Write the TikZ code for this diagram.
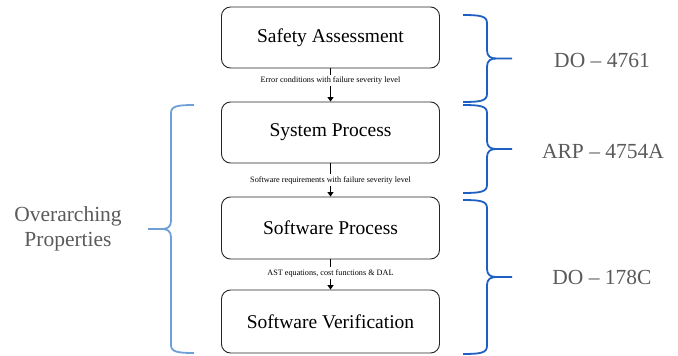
\documentclass[tikz,border=0pt]{standalone}
\usepackage{fontspec}
\setmainfont{Liberation Serif}
\usetikzlibrary{arrows.meta}
\definecolor{bracedark}{RGB}{30,95,195}
\definecolor{bracelight}{RGB}{110,160,215}
\definecolor{labgray}{RGB}{90,90,90}
\newcommand{\drawbrace}[7]{%
  % #1 style, #2 x of ends, #3 x of spine, #4 x of tip, #5 y top, #6 y bottom, #7 sign
  \draw[#1] (#2,#5) .. controls ({#3-7*#7},#5) and (#3,{#5+1}) .. (#3,{#5+8})
    -- (#3,{(#5+#6)/2-8}) .. controls (#3,{(#5+#6)/2-2}) and ({#3+4*#7},{(#5+#6)/2}) .. ({#3+9*#7},{(#5+#6)/2})
    -- (#4,{(#5+#6)/2});
  \draw[#1] (#2,#6) .. controls ({#3-7*#7},#6) and (#3,{#6-1}) .. (#3,{#6-8})
    -- (#3,{(#5+#6)/2+8}) .. controls (#3,{(#5+#6)/2+2}) and ({#3+4*#7},{(#5+#6)/2}) .. ({#3+9*#7},{(#5+#6)/2});
}
\begin{document}
\begin{tikzpicture}[x=1pt,y=-1pt,
  stage/.style={draw=black!85,line width=0.9pt,rounded corners=9pt,minimum width=218pt,
    inner sep=0pt,font=\fontsize{19.5}{22}\selectfont},
  flow/.style={line width=1.6pt,-{Triangle[width=6pt,length=4.5pt]}},
  flowlab/.style={fill=white,inner sep=2pt,font=\fontsize{8.2}{10}\selectfont,text=black},
  stdlab/.style={text=labgray,font=\fontsize{21.5}{24}\selectfont},
  bracer/.style={draw=bracedark,line width=1.8pt},
  bracel/.style={draw=bracelight,line width=1.8pt}]
\useasboundingbox (0,0) rectangle (678,356);
\node[stage,minimum height=61pt] (sa) at (330.5,37.5) {Safety Assessment};
\node[stage,minimum height=61pt] (sp) at (330.5,132.5) {System Process};
\node[stage,minimum height=62pt] (swp) at (330.5,228) {Software Process};
\node[stage,minimum height=63pt] (swv) at (330.5,321.5) {Software Verification};
\draw[flow] (sa.south) -- node[flowlab,pos=0.36] (l1) {Error conditions with failure severity level} (sp.north);
\draw[flow] (sp.south) -- node[flowlab,pos=0.5] (l2) {Software requirements with failure severity level} (swp.north);
\draw[flow] (swp.south) -- node[flowlab,pos=0.45] (l3) {AST equations, cost functions \& DAL} (swv.north);
\drawbrace{bracer}{463}{487}{512}{15}{102}{1}
\drawbrace{bracer}{463}{487}{512}{105}{193}{1}
\drawbrace{bracer}{463}{487}{512}{200}{354}{1}
\drawbrace{bracel}{194}{171}{148}{105}{353}{-1}
\node[stdlab] (do4761) at (602,60) {DO – 4761};
\node[stdlab] (arp) at (603,152) {ARP – 4754A};
\node[stdlab] (do178) at (602,277) {DO – 178C};
\node[stdlab,align=center,font=\fontsize{21.5}{25}\selectfont] (op) at (68,229) {Overarching\\Properties};
\end{tikzpicture}
\end{document}
